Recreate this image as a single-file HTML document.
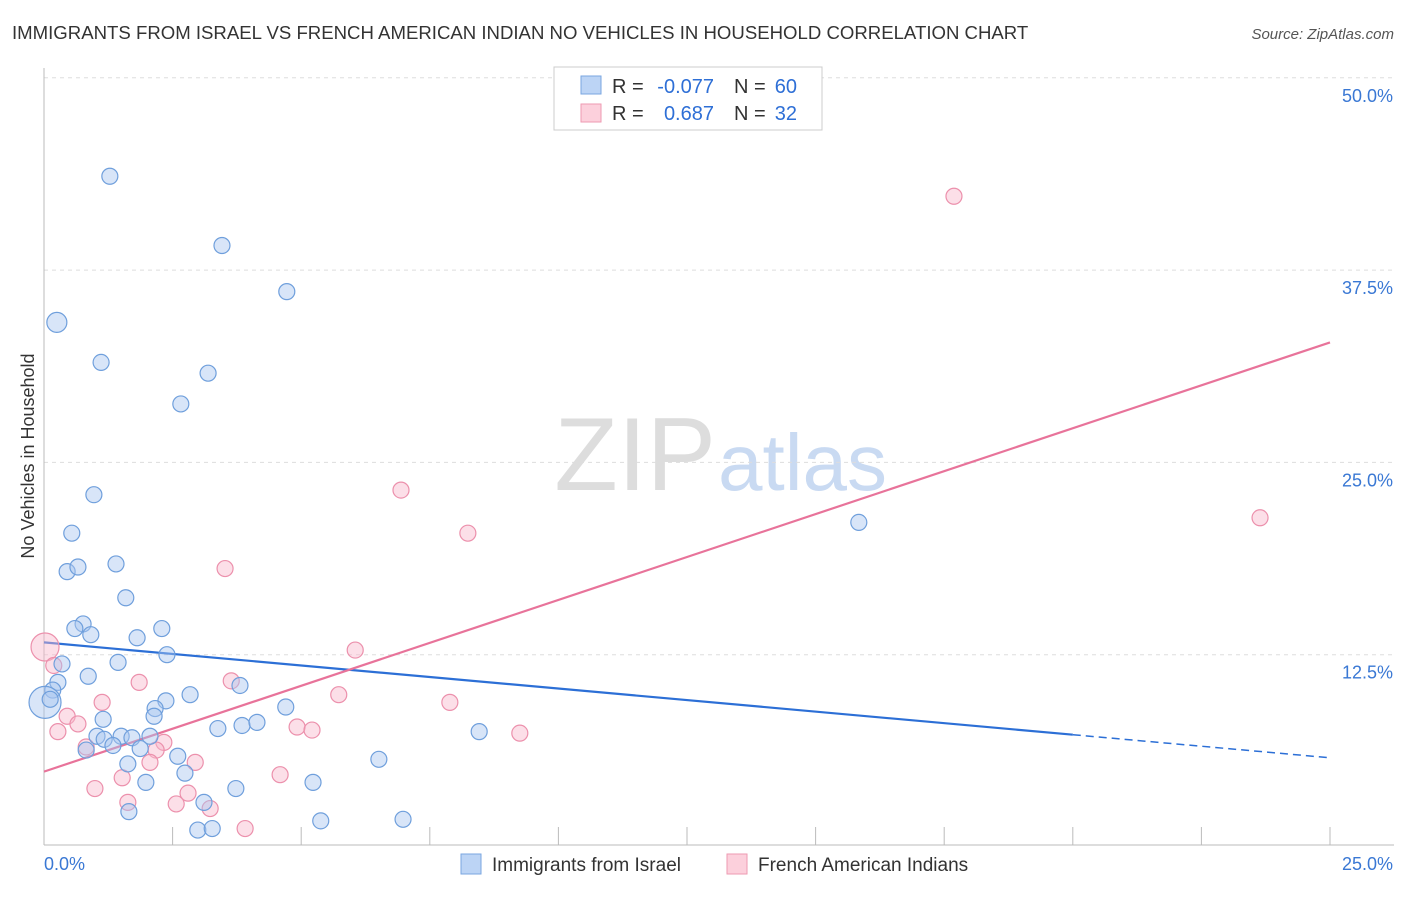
<!DOCTYPE html>
<html><head><meta charset="utf-8"><style>
body{margin:0;background:#fff;font-family:"Liberation Sans",sans-serif;}
svg text{font-family:"Liberation Sans",sans-serif;}
</style></head><body>
<svg id="chart" width="1406" height="892">
<text x="12" y="39" font-size="18.6" fill="#333">IMMIGRANTS FROM ISRAEL VS FRENCH AMERICAN INDIAN NO VEHICLES IN HOUSEHOLD CORRELATION CHART</text>
<text x="1394" y="39" font-size="15" fill="#555" font-style="italic" text-anchor="end">Source: ZipAtlas.com</text>
<text x="716" y="490" font-size="104" fill="#ddd" font-family="Liberation Serif" text-anchor="end">ZIP</text>
<text x="718" y="490" font-size="80" fill="#c9daf2">atlas</text>
<text transform="translate(34,456) rotate(-90)" font-size="18" fill="#333" text-anchor="middle">No Vehicles in Household</text>
<g id="grid"></g><g id="lines"></g><g id="pts"></g>
<g>
<rect x="554" y="67" width="268" height="63" fill="#fff" stroke="#ccc"/>
<rect x="581" y="76" width="20" height="18" fill="#bcd4f5" stroke="#7aa6e0"/>
<rect x="581" y="104" width="20" height="18" fill="#fcd0dc" stroke="#ee9ab2"/>
<text x="612" y="93" font-size="20" fill="#333">R =</text>
<text x="714" y="93" font-size="20" fill="#2e6fd6" text-anchor="end">-0.077</text>
<text x="734" y="93" font-size="20" fill="#333">N =</text>
<text x="797" y="93" font-size="20" fill="#2e6fd6" text-anchor="end">60</text>
<text x="612" y="120" font-size="20" fill="#333">R =</text>
<text x="714" y="120" font-size="20" fill="#2e6fd6" text-anchor="end">0.687</text>
<text x="734" y="120" font-size="20" fill="#333">N =</text>
<text x="797" y="120" font-size="20" fill="#2e6fd6" text-anchor="end">32</text>
</g>
<g>
<rect x="461" y="854" width="20" height="20" fill="#bcd4f5" stroke="#7aa6e0"/>
<text x="492" y="871" font-size="19" fill="#333">Immigrants from Israel</text>
<rect x="727" y="854" width="20" height="20" fill="#fcd0dc" stroke="#ee9ab2"/>
<text x="758" y="871" font-size="19" fill="#333">French American Indians</text>
</g>
</svg>
<script>
const yTicks=[12.5,25,37.5,50];
const yTickLabels=["12.5%","25.0%","37.5%","50.0%"];
const xTickVals=[0,2.5,5,7.5,10,12.5,15,17.5,20,22.5,25];
const blueX=[1.28,3.46,4.72,0.25,1.11,3.19,2.66,0.97,0.54,0.45,0.66,1.40,1.59,0.76,0.60,0.91,1.81,2.29,2.39,0.35,1.44,0.86,0.27,0.17,0.02,2.84,2.37,2.16,2.14,1.15,4.70,3.81,3.38,3.85,4.14,1.03,1.50,1.17,1.71,2.06,1.87,0.82,1.34,2.60,1.63,2.74,6.51,8.46,5.23,1.98,3.73,3.11,1.65,5.38,6.98,2.99,3.27,15.84,0.12];
const blueY=[43.6,39.1,36.1,34.1,31.5,30.8,28.8,22.9,20.4,17.9,18.2,18.4,16.2,14.5,14.2,13.8,13.6,14.2,12.5,11.9,12.0,11.1,10.7,10.2,9.4,9.9,9.5,9.0,8.5,8.3,9.1,10.5,7.7,7.9,8.1,7.2,7.2,7.0,7.1,7.2,6.4,6.3,6.6,5.9,5.4,4.8,5.7,7.5,4.2,4.2,3.8,2.9,2.3,1.7,1.8,1.1,1.2,21.1,9.6];
const blueR=[8,8,8,10,8,8,8,8,8,8,8,8,8,8,8,8,8,8,8,8,8,8,8,8,16,8,8,8,8,8,8,8,8,8,8,8,8,8,8,8,8,8,8,8,8,8,8,8,8,8,8,8,8,8,8,8,8,8,8];
const pinkX=[17.69,6.94,8.24,23.64,3.52,6.05,0.02,1.85,3.64,5.73,7.89,1.13,0.45,0.66,4.92,5.21,9.25,0.27,2.33,2.18,0.82,2.94,2.06,1.52,4.59,0.99,2.80,1.63,2.57,3.23,3.91,0.19];
const pinkY=[42.3,23.2,20.4,21.4,18.1,12.8,13.0,10.7,10.8,9.9,9.4,9.4,8.5,8.0,7.8,7.6,7.4,7.5,6.8,6.3,6.5,5.5,5.5,4.5,4.7,3.8,3.5,2.9,2.8,2.5,1.2,11.8];
const blueLine=[13.3,5.8], pinkLine=[4.9,32.8], blueSolidEnd=20;
const X=v=>44+v/25*1286, Y=v=>847-v/12.5*192.3;
const NS="http://www.w3.org/2000/svg";
function mk(parent,tag,attrs){const e=document.createElementNS(NS,tag);for(const k in attrs)e.setAttribute(k,attrs[k]);document.getElementById(parent).appendChild(e);return e;}
yTicks.forEach((t,i)=>{
 const l=mk('grid','line',{x1:44,x2:1394,y1:Y(t),y2:Y(t),stroke:'#ddd','stroke-dasharray':'4,4'});
 
 
 const tx=mk('grid','text',{x:1393,y:Y(t)+24,'font-size':18,fill:'#3a78d4','text-anchor':'end'});tx.textContent=yTickLabels[i];
 
 
});
const ax=mk('grid','line',{x1:44,x2:1394,y1:845,y2:845,stroke:'#bbb'});


const ay=mk('grid','line',{x1:44,x2:44,y1:68,y2:845,stroke:'#bbb'});


xTickVals.forEach(v=>{const t=mk('grid','line',{x1:X(v),x2:X(v),y1:827,y2:845,stroke:'#bbb'});
 
 });
const x0=mk('grid','text',{x:44,y:870,'font-size':18,fill:'#3a78d4'});x0.textContent='0.0%';


const x1=mk('grid','text',{x:1393,y:870,'font-size':18,fill:'#3a78d4','text-anchor':'end'});x1.textContent='25.0%';


function pts(xs,ys,rs,fill,stroke,name){xs.forEach((x,i)=>{const c=mk('pts','circle',{cx:X(x),cy:Y(ys[i]),r:rs?rs[i]:8,fill:fill,stroke:stroke,'stroke-width':1.2,'fill-opacity':0.45});
 
 });}
pts(pinkX,pinkY,pinkX.map((v,i)=>i==6?14:8),'#f8b8cb','#ec90ac','pink-point');
pts(blueX,blueY,blueR,'#a9c6ef','#6f9fdc','blue-point');
const bm=blueLine[0]+(blueLine[1]-blueLine[0])*blueSolidEnd/25;
const bl=mk('lines','line',{x1:X(0),y1:Y(blueLine[0]),x2:X(blueSolidEnd),y2:Y(bm),stroke:'#2c6fd6','stroke-width':2.2});


const bd=mk('lines','line',{x1:X(blueSolidEnd),y1:Y(bm),x2:X(25),y2:Y(blueLine[1]),stroke:'#2c6fd6','stroke-width':1.5,'stroke-dasharray':'8,5'});


const pl=mk('lines','line',{x1:X(0),y1:Y(pinkLine[0]),x2:X(25),y2:Y(pinkLine[1]),stroke:'#e8739a','stroke-width':2.2});


</script>
</body></html>
